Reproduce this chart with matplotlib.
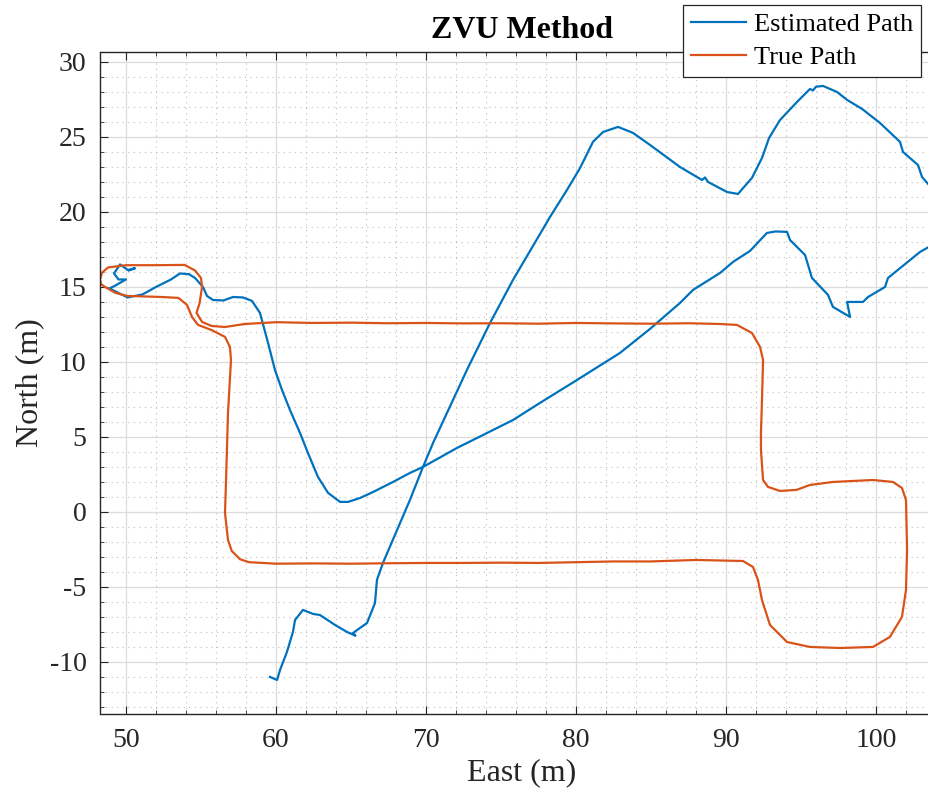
import matplotlib
matplotlib.use("Agg")
import matplotlib.pyplot as plt
from matplotlib.ticker import MultipleLocator

# ---------------- data ----------------
est_east = [50.2, 50.6, 50.13, 49.6, 49.2, 49.5, 50.0, 49.3, 48.9, 49.5, 50.1, 50.6, 51.1, 52.0, 53.0,
            53.6, 54.2, 54.6, 55.13, 55.4, 55.8, 56.5, 57.13, 57.8, 58.4, 58.93, 59.47, 59.93, 60.4,
            60.93, 61.6, 62.13, 62.8, 63.47, 64.27, 64.8, 65.6, 66.47, 67.8, 68.93, 69.8, 72.07, 73.4,
            75.8, 77.6, 80.07, 82.93, 84.93, 86.93, 87.8, 89.6, 90.47, 91.6, 92.73, 93.3, 94.07, 94.27,
            95.27, 95.73, 96.8, 97.13, 98.27, 98.07, 99.13, 99.47, 100.6, 100.8, 102.93, 103.53, 104.6,
            104.6, 103.53, 103.07, 102.8, 101.8, 101.6, 100.27, 99.07, 98.07, 97.4, 96.47, 96.0, 95.8,
            95.6, 94.73, 93.6, 92.87, 92.4, 91.73, 90.8, 90.07, 88.8, 88.6, 88.4, 86.93, 84.93, 83.8,
            82.8, 81.8, 81.13, 80.27, 79.4, 78.27, 75.8, 74.27, 72.73, 71.4, 70.47, 69.8, 68.93, 68.07,
            67.13, 66.73, 66.6, 66.07, 65.13, 65.3, 64.73, 63.93, 62.93, 62.47, 61.8, 61.27, 61.13,
            60.73, 60.27, 60.07, 59.6]
est_north = [16.1, 16.25, 16.13, 16.5, 15.9, 15.5, 15.5, 15.1, 14.9, 14.6, 14.3, 14.4, 14.5, 15.0, 15.5,
             15.9, 15.85, 15.6, 15.0, 14.4, 14.13, 14.1, 14.33, 14.3, 14.07, 13.27, 11.27, 9.47, 8.13,
             6.8, 5.27, 3.93, 2.33, 1.27, 0.67, 0.67, 0.93, 1.33, 2.0, 2.6, 3.0, 4.27, 4.93,
             6.13, 7.27, 8.8, 10.6, 12.2, 13.93, 14.8, 15.93, 16.67, 17.4, 18.6, 18.7, 18.67, 18.13,
             17.13, 15.6, 14.47, 13.67, 13.0, 14.0, 14.0, 14.33, 15.0, 15.6, 17.33, 17.67, 18.4,
             21.2, 21.8, 22.33, 23.13, 24.0, 24.67, 25.93, 26.87, 27.47, 28.0, 28.4, 28.35, 28.1,
             28.2, 27.33, 26.13, 24.93, 23.6, 22.27, 21.2, 21.33, 22.0, 22.3, 22.13, 23.0, 24.47, 25.27,
             25.67, 25.33, 24.67, 22.93, 21.47, 19.67, 15.47, 12.6, 9.47, 6.6, 4.6, 3.0, 0.8, -1.2,
             -3.4, -4.53, -6.07, -7.4, -8.07, -8.25, -8.0, -7.53, -6.87, -6.8, -6.53, -7.2, -8.0,
             -9.33, -10.53, -11.2, -11.0]

true_east = [57.9, 60.0, 62.5, 65.0, 67.5, 70.0, 72.5, 75.0, 77.5, 80.0, 82.5, 85.0, 87.5, 89.6, 90.73,
             91.73, 92.27, 92.47, 92.4, 92.33, 92.33, 92.47, 92.8, 93.6, 94.7, 95.6, 97.13, 99.8, 101.13,
             101.73, 102.0, 102.07, 102.0, 101.73, 100.93, 99.8, 97.6, 95.6, 94.07, 92.93, 92.4, 92.13,
             91.8, 91.13, 88.0, 85.0, 82.5, 80.0, 77.5, 75.0, 72.5, 70.0, 67.5, 65.0, 62.5, 60.0, 59.13,
             58.2, 57.6, 57.05, 56.8, 56.6, 56.67, 56.8, 57.0, 56.93, 56.6, 55.7, 54.8, 54.4, 54.07, 53.5,
             52.4, 50.1, 49.3, 48.6, 48.32, 48.27, 48.4, 48.8, 50.0, 52.0, 53.9, 54.6, 55.0, 55.07, 54.9, 54.7,
             55.07, 55.7, 56.6, 57.9]
true_north = [12.53, 12.65, 12.6, 12.62, 12.58, 12.6, 12.57, 12.58, 12.55, 12.6, 12.57, 12.55, 12.58, 12.53, 12.47,
              11.93, 11.0, 10.13, 7.47, 5.27, 4.13, 2.13, 1.67, 1.4, 1.47, 1.8, 2.0, 2.13, 2.0,
              1.6, 0.8, -2.53, -5.2, -7.0, -8.33, -9.0, -9.07, -9.0, -8.67, -7.53, -5.87, -4.53,
              -3.67, -3.27, -3.2, -3.3, -3.3, -3.35, -3.4, -3.38, -3.4, -3.4, -3.42, -3.45, -3.43, -3.45, -3.4,
              -3.35, -3.15, -2.6, -1.87, -0.07, 2.13, 6.6, 10.13, 11.0, 11.67, 12.13, 12.47, 13.0, 13.8, 14.27,
              14.33, 14.4, 14.6, 15.0, 15.2, 15.5, 15.95, 16.3, 16.45, 16.45, 16.47, 16.1, 15.6, 15.0, 13.9, 13.27,
              12.67, 12.4, 12.33, 12.53]

title_text = "ZVU Method"
x_label = "East (m)"
y_label = "North (m)"
legend_labels = ["Estimated Path", "True Path"]

# ---------------- figure ----------------
W, H = 929, 800
fig = plt.figure(figsize=(W / 100, H / 100), dpi=100)
plt.rcParams['font.family'] = ['Liberation Serif', 'DejaVu Serif']
plt.rcParams['axes.unicode_minus'] = False

xlim = (48.3, 104.5)
ylim = (-13.47, 30.67)
ppu = 15.0
left_px, bottom_px = 100.5, 714
ax = fig.add_axes([left_px / W, (H - bottom_px) / H,
                   (xlim[1] - xlim[0]) * ppu / W, (ylim[1] - ylim[0]) * ppu / H])
ax.set_xlim(*xlim)
ax.set_ylim(*ylim)

blue = "#0072BD"
orange = "#D95319"
l1, = ax.plot(est_east, est_north, color=blue, lw=1.6, solid_joinstyle='round')
l2, = ax.plot(true_east, true_north, color=orange, lw=1.6, solid_joinstyle='round')

ax.xaxis.set_major_locator(MultipleLocator(10))
ax.xaxis.set_minor_locator(MultipleLocator(2))
ax.yaxis.set_major_locator(MultipleLocator(5))
ax.yaxis.set_minor_locator(MultipleLocator(1))
ax.grid(which='major', color='#dcdcdc', lw=0.9, ls='-')
ax.grid(which='minor', color='#bdbdbd', lw=0.8, ls=(0, (1, 4)))
ax.set_axisbelow(True)

dark = '#262626'
for s in ax.spines.values():
    s.set_color(dark)
    s.set_linewidth(1.0)
ax.tick_params(which='both', direction='in', top=True, right=True, colors=dark,
               labelsize=20, labelcolor=dark)
ax.tick_params(which='major', length=6, pad=10)
ax.tick_params(which='minor', length=3)

ax.set_xlabel(x_label, fontsize=23, color=dark, labelpad=4)
ax.set_ylabel(y_label, fontsize=23, color=dark, labelpad=4)
fig.text(522 / W, 1 - 30 / H, title_text, ha='center', va='center',
         fontsize=23, fontweight='bold', color='black')

leg = fig.legend([l1, l2], legend_labels, loc='upper left',
                 bbox_to_anchor=(683 / W, 1 - 5 / H), fontsize=19,
                 frameon=True, fancybox=False, borderaxespad=0, handlelength=2.1,
                 handletextpad=0.3, borderpad=0.3, labelspacing=0.35)
leg.get_frame().set_edgecolor(dark)
leg.get_frame().set_linewidth(0.9)
leg.get_frame().set_alpha(1)

fig.savefig("out.png", dpi=100)
